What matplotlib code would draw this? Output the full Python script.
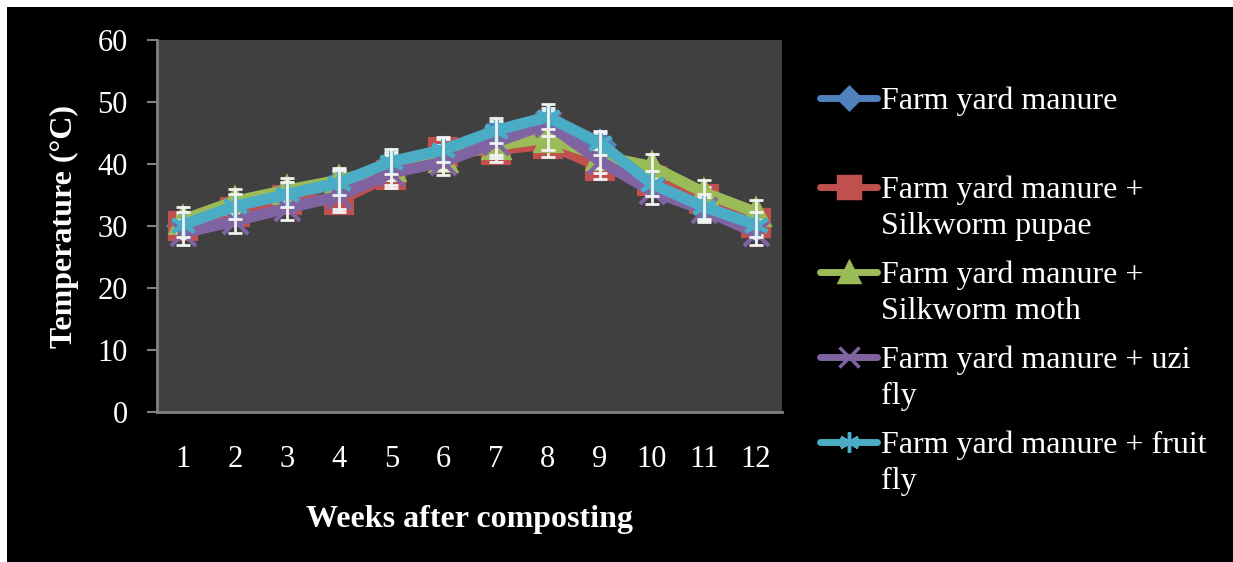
import numpy as np
import matplotlib.pyplot as plt

plt.rcParams['font.family'] = ['Liberation Serif', 'DejaVu Serif']

# ---- data ----
weeks = np.arange(1, 13)
labels = ["Farm yard manure",
          "Farm yard manure +\nSilkworm pupae",
          "Farm yard manure +\nSilkworm moth",
          "Farm yard manure + uzi\nfly",
          "Farm yard manure + fruit\nfly"]
fym = [30.0, 33.0, 35.0, 36.8, 40.0, 42.0, 45.0, 47.0, 43.0, 37.0, 33.0, 30.0]
fym_pupae = [30.0, 32.3, 34.2, 34.2, 38.2, 42.0, 42.3, 43.2, 39.6, 37.2, 34.3, 30.5]
fym_moth = [31.0, 34.0, 35.8, 37.4, 39.5, 41.0, 43.0, 44.2, 41.3, 39.6, 35.4, 32.2]
fym_uzi = [28.9, 30.8, 32.9, 34.8, 38.6, 40.3, 43.5, 46.5, 40.5, 35.6, 32.6, 28.9]
fym_fruit = [30.2, 33.2, 35.1, 37.0, 40.4, 42.3, 45.4, 47.6, 43.4, 36.8, 33.1, 30.2]
err = [2.0] * 12

series = [fym, fym_pupae, fym_moth, fym_uzi, fym_fruit]
colors = ['#4F81BD', '#C0504D', '#9BBB59', '#8064A2', '#4BACC6']
markers = ['D', 's', '^', 'x', (6, 2, 0)]
msizes = [14, 19, 18, 18, 18]

W, H = 1233, 562
fig = plt.figure(figsize=(W / 100, H / 100), dpi=100, facecolor='black')

ax = fig.add_axes([157 / W, 1 - 412 / H, (782 - 157) / W, (412 - 40) / H])
ax.set_facecolor('#404040')

# each series' error bars sit on top of its own line, under the next series
for i, (vals, c, m, ms) in enumerate(zip(series, colors, markers, msizes)):
    ax.errorbar(weeks, vals, yerr=err, fmt='none', ecolor='#f2f2f2',
                elinewidth=2, capsize=5, capthick=2, zorder=3 + 2 * i)
    ax.plot(weeks, vals, color=c, lw=8, marker=m, ms=ms, mec=c, mew=3,
            zorder=2 + 2 * i)

ax.set_xlim(0.5, 12.5)
ax.set_ylim(0, 60)
ax.set_yticks(range(0, 61, 10))
ax.set_xticks(weeks)
for s in ['top', 'right']:
    ax.spines[s].set_visible(False)
for s in ['left', 'bottom']:
    ax.spines[s].set_color('#808080')
    ax.spines[s].set_linewidth(2)
ax.tick_params(axis='y', length=7, width=1.5, color='#808080', pad=14,
               labelsize=22, labelcolor='white')
ax.tick_params(axis='x', length=0, pad=24, labelsize=22, labelcolor='white')
ax.set_xlabel('Weeks after composting', fontsize=23, fontweight='bold',
              color='white', labelpad=22)
ax.set_ylabel('Temperature (°C)', fontsize=23, fontweight='bold',
              color='white', labelpad=13)

# overlay in pixel coordinates: white margins + legend
ov = fig.add_axes([0, 0, 1, 1])
ov.set_xlim(0, W)
ov.set_ylim(H, 0)
ov.axis('off')
ov.patch.set_alpha(0)
ov.fill_between([0, W], 0, 7, color='white', lw=0)
ov.fill_between([0, 7], 0, H, color='white', lw=0)

row_y = [98, 187, 272, 357, 442]
for lab, c, m, ms, y in zip(labels, colors, markers, msizes, row_y):
    ov.plot([820, 877], [y, y], color=c, lw=5, solid_capstyle='round')
    ov.plot([848.5], [y], marker=m, color=c, mec=c, ms=ms * 0.8, mew=2.5)
    for i, line in enumerate(lab.split('\n')):
        ov.text(881, y + 11 + 36 * i, line, fontsize=23, color='white',
                va='baseline', ha='left')

fig.savefig('out.png', dpi=100, facecolor='black')
